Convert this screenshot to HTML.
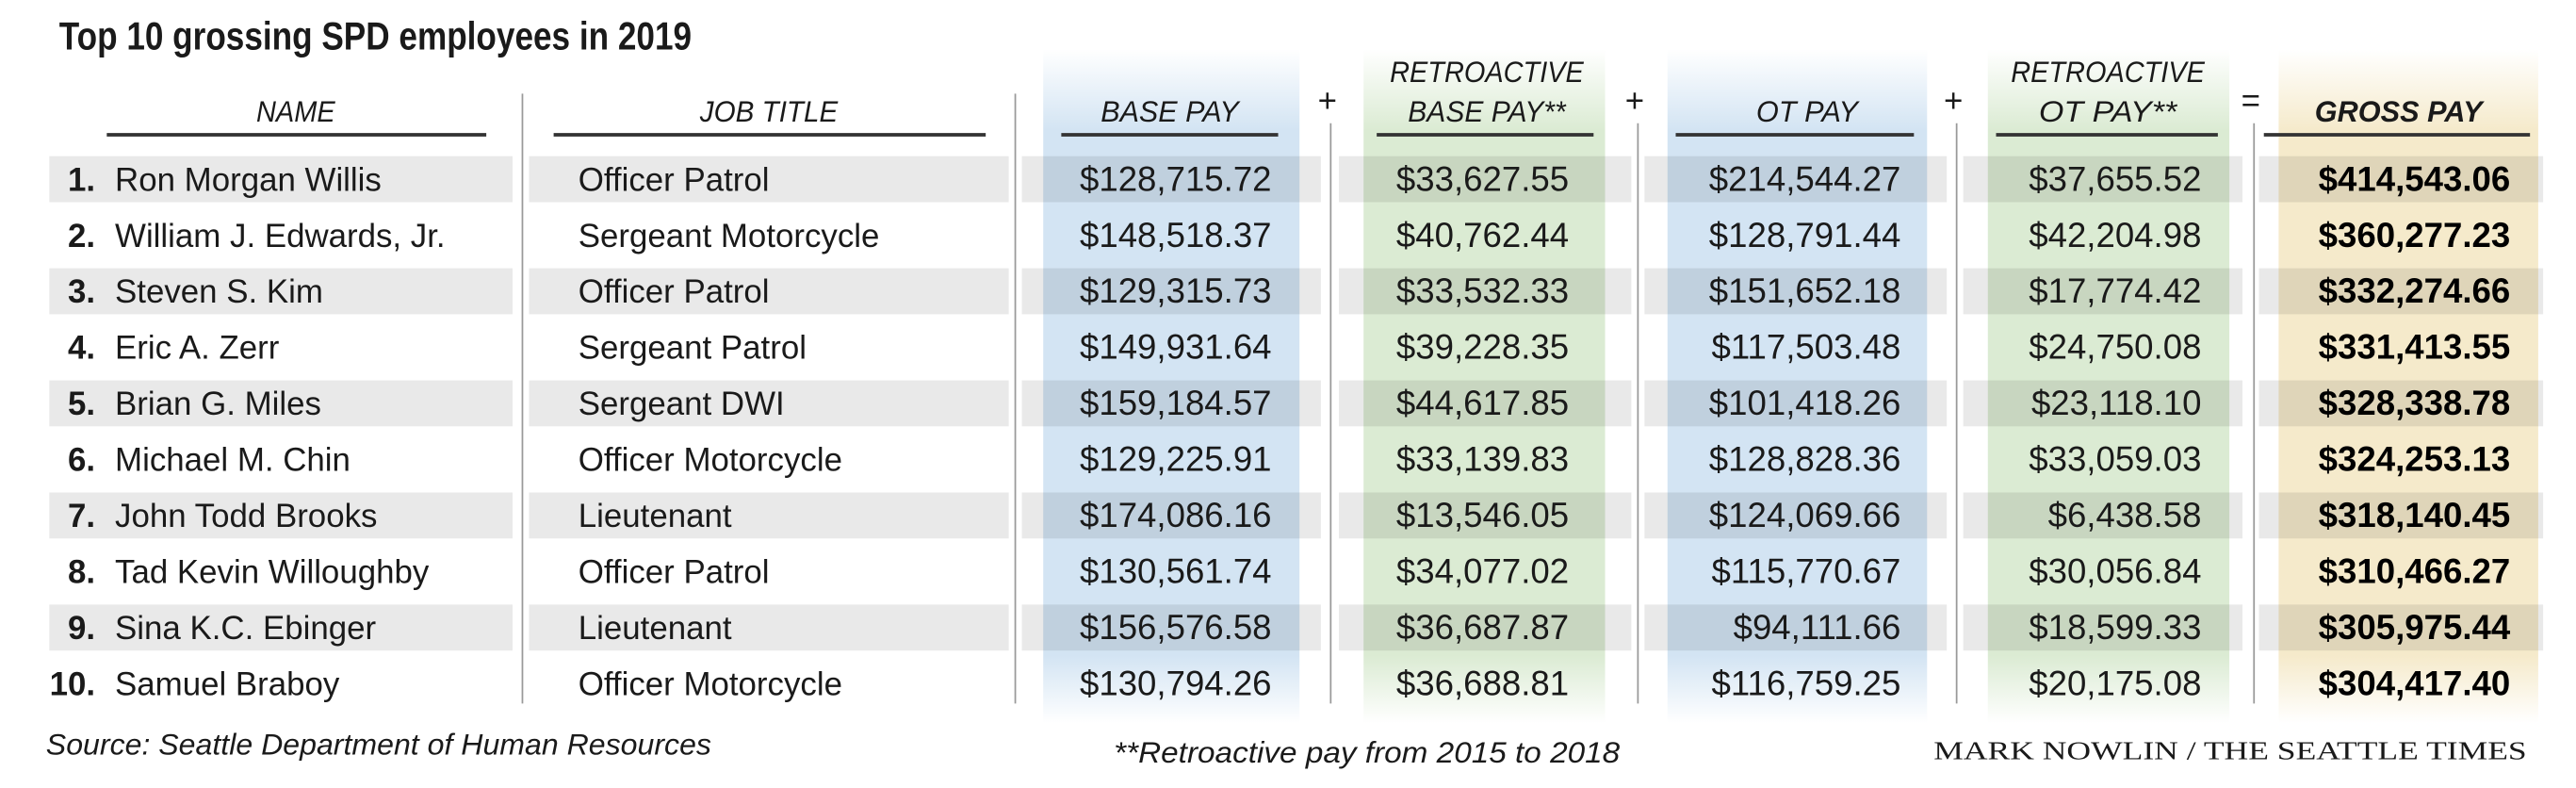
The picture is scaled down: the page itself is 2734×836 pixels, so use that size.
<!DOCTYPE html>
<html><head><meta charset="utf-8"><style>
html,body{margin:0;padding:0;background:#fff;}
svg{display:block;}
text{font-family:"Liberation Sans",sans-serif;fill:#1a1a1a;}
.h{font-style:italic;font-size:18px;text-anchor:middle;}
.r{font-size:20px;}
.m{font-size:21px;text-anchor:end;}
.g{font-size:21px;text-anchor:end;font-weight:bold;fill:#000;}
.n{font-size:20px;font-weight:bold;text-anchor:end;}
</style></head><body>
<svg width="2734" height="836" viewBox="0 0 1568 479.4" preserveAspectRatio="none" xmlns="http://www.w3.org/2000/svg">
<defs>
<linearGradient id="gb" x1="0" y1="0" x2="0" y2="1">
<stop offset="0" stop-color="#d3e4f3" stop-opacity="0"/><stop offset="0.12" stop-color="#d3e4f3"/><stop offset="0.9" stop-color="#d3e4f3"/><stop offset="1" stop-color="#d3e4f3" stop-opacity="0"/></linearGradient>
<linearGradient id="gg" x1="0" y1="0" x2="0" y2="1">
<stop offset="0" stop-color="#dbebd3" stop-opacity="0"/><stop offset="0.12" stop-color="#dbebd3"/><stop offset="0.9" stop-color="#dbebd3"/><stop offset="1" stop-color="#dbebd3" stop-opacity="0"/></linearGradient>
<linearGradient id="gy" x1="0" y1="0" x2="0" y2="1">
<stop offset="0" stop-color="#f5eacb" stop-opacity="0"/><stop offset="0.12" stop-color="#f5eacb"/><stop offset="0.9" stop-color="#f5eacb"/><stop offset="1" stop-color="#f5eacb" stop-opacity="0"/></linearGradient>
</defs>
<rect x="0" y="0" width="1568" height="479.4" fill="#fff"/>
<rect x="635" y="30" width="156" height="410" fill="url(#gb)"/>
<rect x="830" y="30" width="147" height="410" fill="url(#gg)"/>
<rect x="1015" y="30" width="158" height="410" fill="url(#gb)"/>
<rect x="1210" y="30" width="147" height="410" fill="url(#gg)"/>
<rect x="1387" y="30" width="158" height="410" fill="url(#gy)"/>
<g fill="#000" fill-opacity="0.085">
<rect x="30" y="95" width="282" height="28"/><rect x="322" y="95" width="292" height="28"/><rect x="622" y="95" width="182" height="28"/><rect x="815" y="95" width="178" height="28"/><rect x="1001" y="95" width="184" height="28"/><rect x="1195" y="95" width="170" height="28"/><rect x="1375" y="95" width="173" height="28"/>
<g transform="translate(0,68.2)"><rect x="30" y="95" width="282" height="28"/><rect x="322" y="95" width="292" height="28"/><rect x="622" y="95" width="182" height="28"/><rect x="815" y="95" width="178" height="28"/><rect x="1001" y="95" width="184" height="28"/><rect x="1195" y="95" width="170" height="28"/><rect x="1375" y="95" width="173" height="28"/></g>
<g transform="translate(0,136.4)"><rect x="30" y="95" width="282" height="28"/><rect x="322" y="95" width="292" height="28"/><rect x="622" y="95" width="182" height="28"/><rect x="815" y="95" width="178" height="28"/><rect x="1001" y="95" width="184" height="28"/><rect x="1195" y="95" width="170" height="28"/><rect x="1375" y="95" width="173" height="28"/></g>
<g transform="translate(0,204.6)"><rect x="30" y="95" width="282" height="28"/><rect x="322" y="95" width="292" height="28"/><rect x="622" y="95" width="182" height="28"/><rect x="815" y="95" width="178" height="28"/><rect x="1001" y="95" width="184" height="28"/><rect x="1195" y="95" width="170" height="28"/><rect x="1375" y="95" width="173" height="28"/></g>
<g transform="translate(0,272.8)"><rect x="30" y="95" width="282" height="28"/><rect x="322" y="95" width="292" height="28"/><rect x="622" y="95" width="182" height="28"/><rect x="815" y="95" width="178" height="28"/><rect x="1001" y="95" width="184" height="28"/><rect x="1195" y="95" width="170" height="28"/><rect x="1375" y="95" width="173" height="28"/></g>
</g>
<g stroke="#999" stroke-width="1">
<line x1="318" y1="57" x2="318" y2="428"/><line x1="618" y1="57" x2="618" y2="428"/>
<line x1="810" y1="75" x2="810" y2="428"/><line x1="997" y1="75" x2="997" y2="428"/>
<line x1="1191" y1="75" x2="1191" y2="428"/><line x1="1372" y1="75" x2="1372" y2="428"/>
</g>
<g stroke="#333" stroke-width="2.2">
<line x1="65" y1="82" x2="296" y2="82"/><line x1="337" y1="82" x2="600" y2="82"/>
<line x1="646" y1="82" x2="778" y2="82"/><line x1="838" y1="82" x2="970" y2="82"/>
<line x1="1020" y1="82" x2="1165" y2="82"/><line x1="1215" y1="82" x2="1350" y2="82"/>
<line x1="1378" y1="82" x2="1540" y2="82"/>
</g>
<text x="36" y="30" font-size="24" font-weight="bold" textLength="385" lengthAdjust="spacingAndGlyphs">Top 10 grossing SPD employees in 2019</text>
<text class="h" x="180" y="74" textLength="48" lengthAdjust="spacingAndGlyphs">NAME</text>
<text class="h" x="468" y="74" textLength="84" lengthAdjust="spacingAndGlyphs">JOB TITLE</text>
<text class="h" x="712" y="74" textLength="84" lengthAdjust="spacingAndGlyphs">BASE PAY</text>
<text class="h" x="905" y="50" textLength="118" lengthAdjust="spacingAndGlyphs">RETROACTIVE</text>
<text class="h" x="905" y="74" textLength="96" lengthAdjust="spacingAndGlyphs">BASE PAY**</text>
<text class="h" x="1100" y="74" textLength="62" lengthAdjust="spacingAndGlyphs">OT PAY</text>
<text class="h" x="1283" y="50" textLength="118" lengthAdjust="spacingAndGlyphs">RETROACTIVE</text>
<text class="h" x="1283" y="74" textLength="84" lengthAdjust="spacingAndGlyphs">OT PAY**</text>
<text class="h" x="1460" y="74" font-weight="bold" textLength="102" lengthAdjust="spacingAndGlyphs">GROSS PAY</text>
<g font-size="20" text-anchor="middle"><text x="808" y="68">+</text><text x="995" y="68">+</text><text x="1189" y="68">+</text><text x="1370" y="68">=</text></g>

<g transform="translate(0,116)"><text class="n" x="58">1.</text><text class="r" x="70">Ron Morgan Willis</text><text class="r" x="352">Officer Patrol</text><text class="m" x="774">$128,715.72</text><text class="m" x="955">$33,627.55</text><text class="m" x="1157">$214,544.27</text><text class="m" x="1340">$37,655.52</text><text class="g" x="1528">$414,543.06</text></g>
<g transform="translate(0,150.1)"><text class="n" x="58">2.</text><text class="r" x="70">William J. Edwards, Jr.</text><text class="r" x="352">Sergeant Motorcycle</text><text class="m" x="774">$148,518.37</text><text class="m" x="955">$40,762.44</text><text class="m" x="1157">$128,791.44</text><text class="m" x="1340">$42,204.98</text><text class="g" x="1528">$360,277.23</text></g>
<g transform="translate(0,184.2)"><text class="n" x="58">3.</text><text class="r" x="70">Steven S. Kim</text><text class="r" x="352">Officer Patrol</text><text class="m" x="774">$129,315.73</text><text class="m" x="955">$33,532.33</text><text class="m" x="1157">$151,652.18</text><text class="m" x="1340">$17,774.42</text><text class="g" x="1528">$332,274.66</text></g>
<g transform="translate(0,218.3)"><text class="n" x="58">4.</text><text class="r" x="70">Eric A. Zerr</text><text class="r" x="352">Sergeant Patrol</text><text class="m" x="774">$149,931.64</text><text class="m" x="955">$39,228.35</text><text class="m" x="1157">$117,503.48</text><text class="m" x="1340">$24,750.08</text><text class="g" x="1528">$331,413.55</text></g>
<g transform="translate(0,252.4)"><text class="n" x="58">5.</text><text class="r" x="70">Brian G. Miles</text><text class="r" x="352">Sergeant DWI</text><text class="m" x="774">$159,184.57</text><text class="m" x="955">$44,617.85</text><text class="m" x="1157">$101,418.26</text><text class="m" x="1340">$23,118.10</text><text class="g" x="1528">$328,338.78</text></g>
<g transform="translate(0,286.5)"><text class="n" x="58">6.</text><text class="r" x="70">Michael M. Chin</text><text class="r" x="352">Officer Motorcycle</text><text class="m" x="774">$129,225.91</text><text class="m" x="955">$33,139.83</text><text class="m" x="1157">$128,828.36</text><text class="m" x="1340">$33,059.03</text><text class="g" x="1528">$324,253.13</text></g>
<g transform="translate(0,320.6)"><text class="n" x="58">7.</text><text class="r" x="70">John Todd Brooks</text><text class="r" x="352">Lieutenant</text><text class="m" x="774">$174,086.16</text><text class="m" x="955">$13,546.05</text><text class="m" x="1157">$124,069.66</text><text class="m" x="1340">$6,438.58</text><text class="g" x="1528">$318,140.45</text></g>
<g transform="translate(0,354.7)"><text class="n" x="58">8.</text><text class="r" x="70">Tad Kevin Willoughby</text><text class="r" x="352">Officer Patrol</text><text class="m" x="774">$130,561.74</text><text class="m" x="955">$34,077.02</text><text class="m" x="1157">$115,770.67</text><text class="m" x="1340">$30,056.84</text><text class="g" x="1528">$310,466.27</text></g>
<g transform="translate(0,388.8)"><text class="n" x="58">9.</text><text class="r" x="70">Sina K.C. Ebinger</text><text class="r" x="352">Lieutenant</text><text class="m" x="774">$156,576.58</text><text class="m" x="955">$36,687.87</text><text class="m" x="1157">$94,111.66</text><text class="m" x="1340">$18,599.33</text><text class="g" x="1528">$305,975.44</text></g>
<g transform="translate(0,422.9)"><text class="n" x="58">10.</text><text class="r" x="70">Samuel Braboy</text><text class="r" x="352">Officer Motorcycle</text><text class="m" x="774">$130,794.26</text><text class="m" x="955">$36,688.81</text><text class="m" x="1157">$116,759.25</text><text class="m" x="1340">$20,175.08</text><text class="g" x="1528">$304,417.40</text></g>

<text x="28" y="459" font-size="18" font-style="italic" textLength="405" lengthAdjust="spacingAndGlyphs">Source: Seattle Department of Human Resources</text>
<text x="678" y="464" font-size="18" font-style="italic" textLength="308" lengthAdjust="spacingAndGlyphs">**Retroactive pay from 2015 to 2018</text>
<text x="1177" y="462" font-size="16" style="font-family:'Liberation Serif',serif" textLength="361" lengthAdjust="spacingAndGlyphs">MARK NOWLIN / THE SEATTLE TIMES</text>
</svg>
</body></html>
